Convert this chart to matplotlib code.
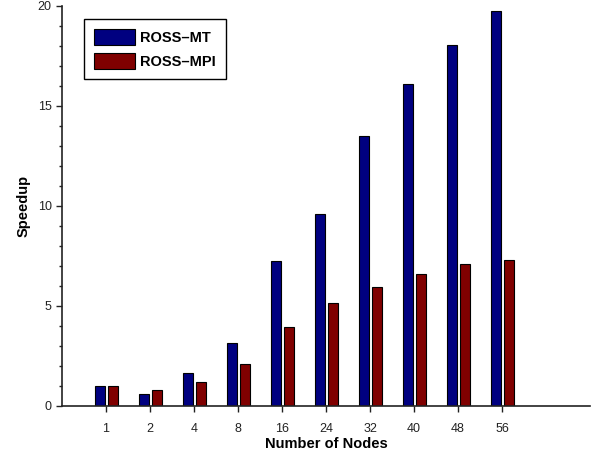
import numpy as np
import matplotlib.pyplot as plt
from matplotlib.ticker import MultipleLocator

plt.rcParams['font.family'] = ['Liberation Sans', 'DejaVu Sans']

nodes = ['1', '2', '4', '8', '16', '24', '32', '40', '48', '56']
ross_mt = [1.0, 0.6, 1.63, 3.13, 7.27, 9.58, 13.48, 16.1, 18.05, 19.73]
ross_mpi = [1.0, 0.78, 1.18, 2.1, 3.93, 5.13, 5.93, 6.58, 7.08, 7.28]

fig = plt.figure(figsize=(5.92, 4.54), dpi=100)
ax = fig.add_axes([62/592, 48/454, 528/592, 400/454])

x = np.arange(len(nodes))
w = 0.23
ax.bar(x - 0.13, ross_mt, w, color='#000080', edgecolor='black', linewidth=0.8, label='ROSS\u2013MT')
ax.bar(x + 0.16, ross_mpi, w, color='#800000', edgecolor='black', linewidth=0.8, label='ROSS\u2013MPI')

ax.set_xlim(-1, 11)
ax.set_ylim(0, 20)
ax.set_xticks(x)
ax.set_xticklabels(nodes)
ax.yaxis.set_major_locator(MultipleLocator(5))
ax.yaxis.set_minor_locator(MultipleLocator(1))

for s in ['top', 'right']:
    ax.spines[s].set_visible(False)
for s in ['left', 'bottom']:
    ax.spines[s].set_linewidth(1.2)
    ax.spines[s].set_color('#222222')

ax.tick_params(axis='both', which='major', direction='out', length=4, width=1, labelsize=9, colors='#222222')
ax.tick_params(axis='y', which='minor', direction='out', length=2, width=1, colors='#222222')
ax.tick_params(axis='x', pad=8)

ax.set_xlabel('Number of Nodes', fontweight='bold', fontsize=10.5, labelpad=2)
ax.set_ylabel('Speedup', fontweight='bold', fontsize=10.5, labelpad=5)

leg = ax.legend(loc='upper left', bbox_to_anchor=(0.0417, 0.9675), borderaxespad=0,
                prop={'weight': 'bold', 'size': 10.5},
                handlelength=2.8, handleheight=1.35, fancybox=False, framealpha=1,
                edgecolor='black', borderpad=0.68, labelspacing=0.5, handletextpad=0.35)
leg.get_frame().set_linewidth(1.0)

fig.savefig('out.png', dpi=100)
